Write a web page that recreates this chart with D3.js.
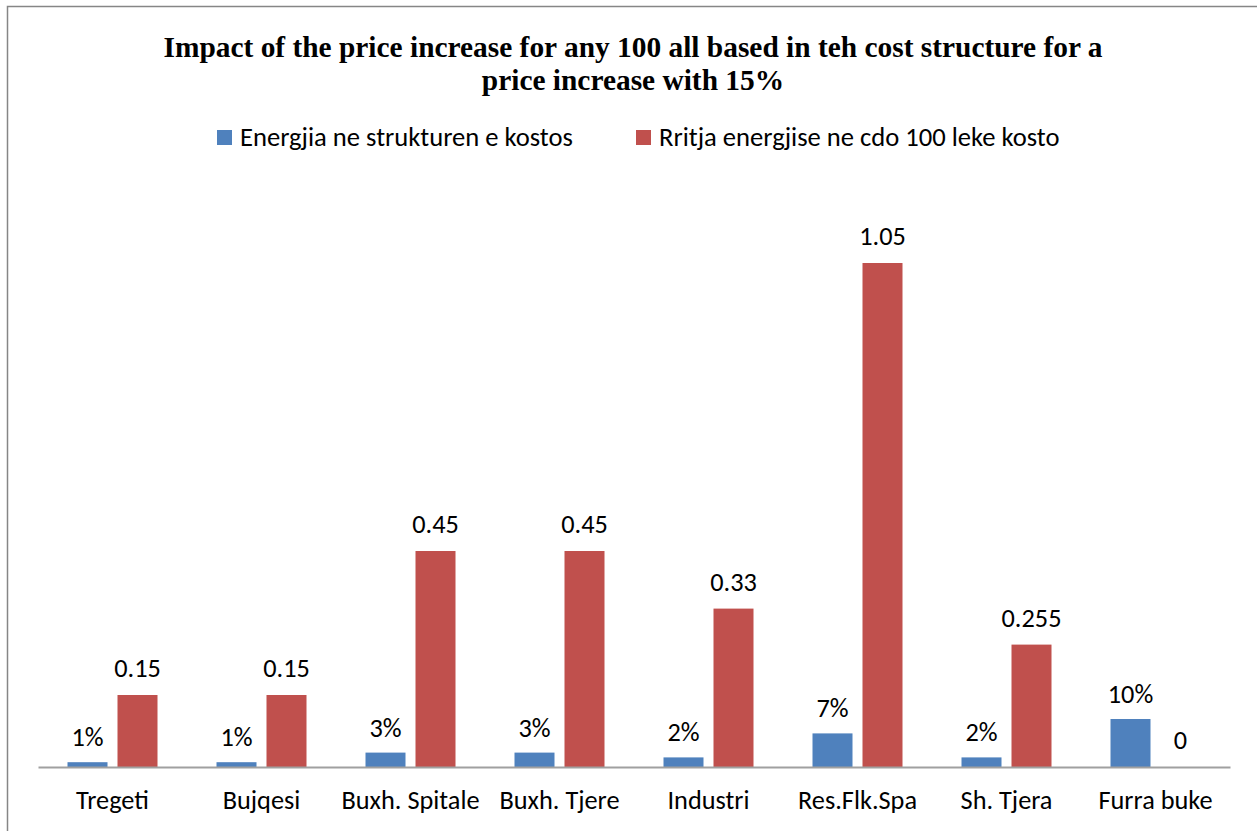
<!DOCTYPE html>
<html><head><meta charset="utf-8">
<script src="https://cdn.jsdelivr.net/npm/d3@7"></script>
<style>body{margin:0;background:#fff}svg{display:block}</style>
</head><body>
<script>
const categories = ["Tregeti","Bujqesi","Buxh. Spitale","Buxh. Tjere","Industri","Res.Flk.Spa","Sh. Tjera","Furra buke"];
const energyShare = [0.01,0.01,0.03,0.03,0.02,0.07,0.02,0.10];
const energyLabels = ["1%","1%","3%","3%","2%","7%","2%","10%"];
const increase = [0.15,0.15,0.45,0.45,0.33,1.05,0.255,0];
const increaseLabels = ["0.15","0.15","0.45","0.45","0.33","1.05","0.255","0"];
const seriesNames = ["Energjia ne strukturen e kostos","Rritja energjise ne cdo 100 leke kosto"];
const colors = ["#4f81bd","#c0504d"];

const W=1257,H=831;
const svg=d3.select("body").append("svg").attr("width",W).attr("height",H);
svg.append("rect").attr("x",7.5).attr("y",6.5).attr("width",1256).attr("height",840)
  .attr("fill","none").attr("stroke","#868686").attr("stroke-width",1.5);

const sans="Carlito, Calibri, 'Open Sans', sans-serif";
const fs=26.3;
const title=svg.append("text").attr("text-anchor","middle").attr("font-family","'Liberation Serif','Times New Roman',serif")
  .attr("font-weight","bold").attr("font-size",29.4).attr("fill","#000");
title.append("tspan").attr("x",633).attr("y",57).text("Impact of the price increase for any 100 all based in teh cost structure for a");
title.append("tspan").attr("x",633).attr("y",90).text("price increase with 15%");

// legend
const legX=[217,636];
seriesNames.forEach((n,i)=>{
  svg.append("rect").attr("x",legX[i]).attr("y",130).attr("width",15).attr("height",15).attr("fill",colors[i]);
  svg.append("text").attr("x",legX[i]+23).attr("y",146).attr("font-family",sans).attr("font-size",26.6).attr("fill","#000").text(n);
});

const x0=d3.scaleBand().domain(categories).range([38,1230]);
const y=d3.scaleLinear().domain([0,1.05]).range([767,263]);

const g=svg.append("g");
categories.forEach((c,i)=>{
  const cx=x0(c)+x0.bandwidth()/2;
  const bx=cx-45, rx=cx+5;
  g.append("rect").attr("x",bx).attr("y",y(energyShare[i])).attr("width",40).attr("height",y(0)-y(energyShare[i])).attr("fill",colors[0]);
  g.append("rect").attr("x",rx).attr("y",y(increase[i])).attr("width",40).attr("height",y(0)-y(increase[i])).attr("fill",colors[1]);
  g.append("text").attr("x",bx+20).attr("y",y(energyShare[i])-16).attr("text-anchor","middle")
    .attr("font-family",sans).attr("font-size",fs).attr("fill","#000").text(energyLabels[i]);
  g.append("text").attr("x",rx+20).attr("y",increase[i]===0? y(0)-18 : y(increase[i])-18).attr("text-anchor","middle")
    .attr("font-family",sans).attr("font-size",fs).attr("fill","#000").text(increaseLabels[i]);
});

const ax=svg.append("g").attr("transform","translate(0,767)").call(d3.axisBottom(x0).tickSize(0).tickPadding(0));
ax.select(".domain").attr("stroke","#a0a0a0").attr("stroke-width",2);
ax.selectAll("text").attr("font-family",sans).attr("font-size",fs).attr("fill","#000").attr("dy",0).attr("y",42);
</script>
</body></html>
